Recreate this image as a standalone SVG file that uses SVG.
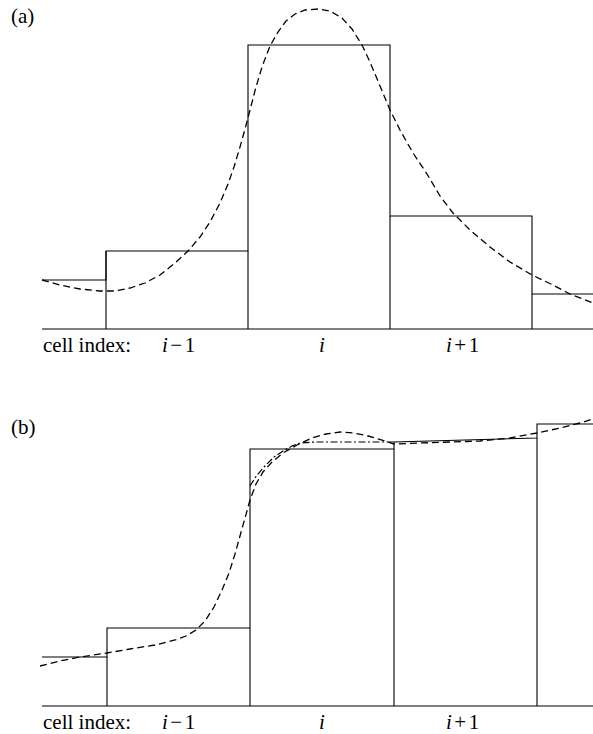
<svg xmlns="http://www.w3.org/2000/svg" width="593" height="734" viewBox="0 0 593 734">
<style>
.ax{fill:none;stroke:#000;stroke-width:1.1}
.dash{fill:none;stroke:#000;stroke-width:1.3;stroke-dasharray:7 4}
.dd{fill:none;stroke:#000;stroke-width:1.2;stroke-dasharray:7 2.5 2 2.5}
.t{font-family:'Liberation Serif','Times New Roman','DejaVu Serif',serif;font-size:21px;fill:#000}
.it{font-style:italic}
</style>
<rect width="593" height="734" fill="#fff"/>
<g id="panel-a">
  <text class="t" x="11" y="23" font-family="Liberation Serif, serif">(a)</text>
  <path class="ax" d="M42,329 H593"/>
  <path class="ax" d="M42,280 H106 V251 H248 V45 H390 V216 H532 V294 H593"/>
  <path class="ax" d="M106,329 V251 M248,329 V251 M390,329 V216 M532,329 V294"/>
  <path class="dash" d="M42,280 L60,285 L80,289 L100,291 L115,291 L130,288 L145,283 L160,275 L175,263 L188,251 L200,237 L210,222 L220,203 L228,184 L234,167 L240,147 L245,129 L250,110 L256,87 L262,67 L270,46 L278,32 L286,21 L295,14 L305,10 L318,9 L330,11 L342,18 L352,29 L362,45 L370,62 L380,86 L390,110 L400,130 L413,153 L427,174 L440,196 L453,213 L470,230 L490,247 L510,262 L532,275 L553,285 L570,294 L593,303"/>
  <text class="t" x="43" y="352" font-family="Liberation Serif, serif">cell index:</text>
  <text class="t" x="162" y="352" font-family="Liberation Serif, serif"><tspan class="it">i</tspan><tspan dx="2.5">−</tspan><tspan dx="2.5">1</tspan></text>
  <text class="t it" x="319" y="352" font-family="Liberation Serif, serif">i</text>
  <text class="t" x="446" y="352" font-family="Liberation Serif, serif"><tspan class="it">i</tspan><tspan dx="2.5">+</tspan><tspan dx="2.5">1</tspan></text>
</g>
<g id="panel-b">
  <text class="t" x="11" y="434" font-family="Liberation Serif, serif">(b)</text>
  <path class="ax" d="M42,706 H593"/>
  <path class="ax" d="M42,657 H107 V628 H250 V449 H394 V442 L537,438 V424 H593"/>
  <path class="ax" d="M107,706 V657 M250,706 V628 M394,706 V449 M537,706 V438"/>
  <path class="dash" d="M40,666 L60,661 L80,657 L107,653 L130,649 L155,645 L175,640 L186,636 L196,630 L205,621 L214,607 L222,590 L229,573 L235,554 L240,536 L245,518 L250,500 L256,484 L263,472 L272,462 L283,453 L297,445 L312,438 L326,434 L340,432 L354,433 L368,436 L382,440 L394,444 L420,443 L450,442 L480,441 L510,438 L537,433 L560,428 L580,423 L593,419"/>
  <path class="dd" d="M250,486 L257,475 L265,466 L274,457 L283,451 L292,446 L300,443 L315,442 L394,442"/>
  <text class="t" x="43" y="729" font-family="Liberation Serif, serif">cell index:</text>
  <text class="t" x="162" y="729" font-family="Liberation Serif, serif"><tspan class="it">i</tspan><tspan dx="2.5">−</tspan><tspan dx="2.5">1</tspan></text>
  <text class="t it" x="319" y="729" font-family="Liberation Serif, serif">i</text>
  <text class="t" x="446" y="729" font-family="Liberation Serif, serif"><tspan class="it">i</tspan><tspan dx="2.5">+</tspan><tspan dx="2.5">1</tspan></text>
</g>
</svg>
